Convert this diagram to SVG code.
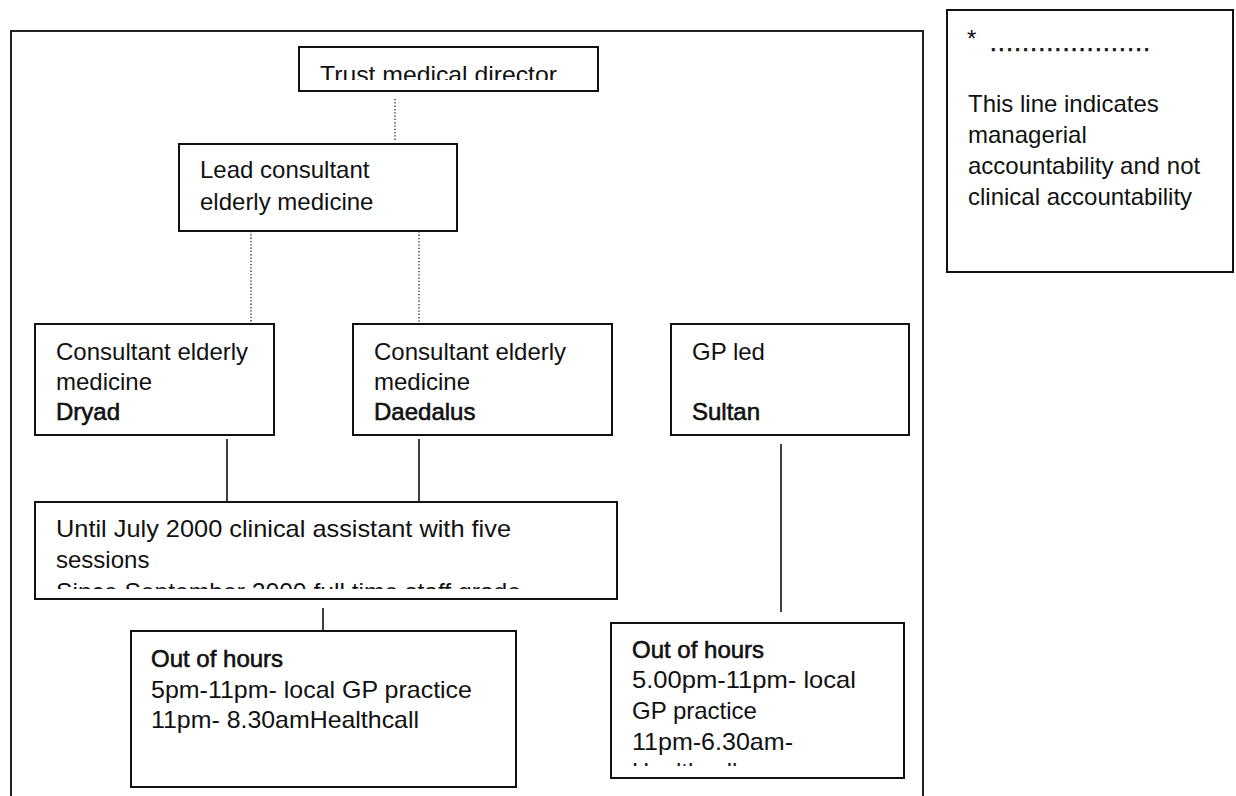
<svg xmlns="http://www.w3.org/2000/svg" width="1236" height="796" viewBox="0 0 1236 796">
<style>
.box{fill:#fff;stroke:#111;stroke-width:2}
.frame{fill:none;stroke:#222;stroke-width:2}
.t{font-family:"Liberation Sans",Arial,sans-serif;font-size:24px;fill:#111}
.b{stroke:#111;stroke-width:0.6}
.dot{stroke:#222;stroke-width:1.3;stroke-dasharray:1.3 2;fill:none}
.sol{stroke:#111;stroke-width:1.6;fill:none}
</style>
<defs>
<clipPath id="cTrust"><rect x="299" y="47" width="299" height="33"/></clipPath>
<clipPath id="cUntil"><rect x="35" y="502" width="582" height="87"/></clipPath>
<clipPath id="cOoh2"><rect x="611" y="623" width="293" height="143"/></clipPath>
</defs>
<rect class="frame" x="11" y="31" width="912" height="800"/>
<g id="connectors">
<line class="dot" x1="395" y1="99" x2="395" y2="140"/>
<line class="dot" x1="251" y1="231" x2="251" y2="322"/>
<line class="dot" x1="419" y1="228" x2="419" y2="322"/>
<line class="sol" x1="227" y1="439" x2="227" y2="512"/>
<line class="sol" x1="419" y1="439" x2="419" y2="512"/>
<line class="sol" x1="781" y1="444" x2="781" y2="612"/>
<line class="sol" x1="323" y1="608" x2="323" y2="631"/>
</g>
<g id="trust">
<rect class="box" x="299" y="47" width="299" height="44"/>
<text class="t" x="320" y="83" textLength="237" lengthAdjust="spacingAndGlyphs" clip-path="url(#cTrust)">Trust medical director</text>
</g>
<g id="lead">
<rect class="box" x="179" y="144" width="278" height="87"/>
<text class="t" x="200" y="178">Lead consultant</text>
<text class="t" x="200" y="210">elderly medicine</text>
</g>
<g id="dryad">
<rect class="box" x="35" y="324" width="239" height="111"/>
<text class="t" x="56" y="360">Consultant elderly</text>
<text class="t" x="56" y="390">medicine</text>
<text class="t b" x="56" y="420">Dryad</text>
</g>
<g id="daedalus">
<rect class="box" x="353" y="324" width="259" height="111"/>
<text class="t" x="374" y="360">Consultant elderly</text>
<text class="t" x="374" y="390">medicine</text>
<text class="t b" x="374" y="420">Daedalus</text>
</g>
<g id="sultan">
<rect class="box" x="671" y="324" width="238" height="111"/>
<text class="t" x="692" y="360">GP led</text>
<text class="t b" x="692" y="420">Sultan</text>
</g>
<g id="assistant">
<rect class="box" x="35" y="502" width="582" height="97"/>
<g clip-path="url(#cUntil)">
<text class="t" x="56" y="537" textLength="455" lengthAdjust="spacingAndGlyphs">Until July 2000 clinical assistant with five</text>
<text class="t" x="56" y="568">sessions</text>
<text class="t" x="56" y="600" textLength="465" lengthAdjust="spacingAndGlyphs">Since September 2000 full time staff grade</text>
</g>
</g>
<g id="ooh1">
<rect class="box" x="131" y="631" width="385" height="156"/>
<text class="t b" x="151" y="667">Out of hours</text>
<text class="t" x="151" y="698" textLength="321" lengthAdjust="spacingAndGlyphs">5pm-11pm- local GP practice</text>
<text class="t" x="151" y="728" textLength="268" lengthAdjust="spacingAndGlyphs">11pm- 8.30amHealthcall</text>
</g>
<g id="ooh2">
<rect class="box" x="611" y="623" width="293" height="155"/>
<g clip-path="url(#cOoh2)">
<text class="t b" x="632" y="658">Out of hours</text>
<text class="t" x="632" y="688" textLength="224" lengthAdjust="spacingAndGlyphs">5.00pm-11pm- local</text>
<text class="t" x="632" y="719">GP practice</text>
<text class="t" x="632" y="750" textLength="161" lengthAdjust="spacingAndGlyphs">11pm-6.30am-</text>
<text class="t" x="632" y="780">Healthcall</text>
</g>
</g>
<g id="legend">
<rect class="box" x="947" y="10" width="286" height="262"/>
<text class="t" x="967" y="47">*</text>
<text class="t b" x="990" y="51" textLength="160" lengthAdjust="spacing">....................</text>
<text class="t" x="968" y="112">This line indicates</text>
<text class="t" x="968" y="143">managerial</text>
<text class="t" x="968" y="174">accountability and not</text>
<text class="t" x="968" y="205">clinical accountability</text>
</g>
</svg>
